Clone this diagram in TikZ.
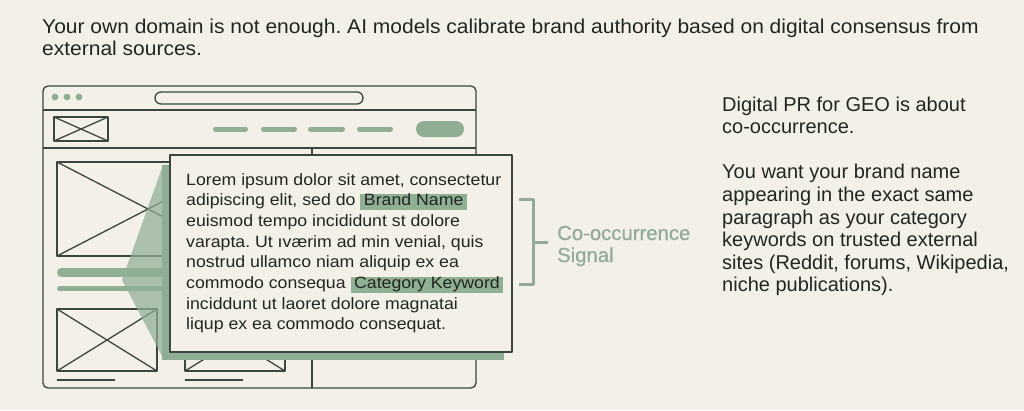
\documentclass[tikz,border=0pt]{standalone}
\usepackage{fontspec}
\setmainfont{Liberation Sans}
\newfontfamily\topf[FakeStretch=1.05]{Liberation Sans}
\newfontfamily\cardf[FakeStretch=1.08]{Liberation Sans}
\newfontfamily\lblf[FakeBold=0.6]{Liberation Sans}
\frenchspacing
\definecolor{bg}{HTML}{F3F1E7}
\definecolor{ink}{HTML}{222622}
\definecolor{frm}{HTML}{3A463E}
\definecolor{grn}{HTML}{8FAE93}
\definecolor{hl}{HTML}{8FB093}
\definecolor{brk}{HTML}{93AA98}
\newcommand\hlb[1]{{\setlength{\fboxsep}{0pt}\colorbox{hl}{\hspace{3.5pt}\rule[-4.5pt]{0pt}{16.5pt}#1\hspace{3.5pt}}}}
\begin{document}
\begin{tikzpicture}[x=1pt,y=-1pt,line join=round,
  frame/.style={draw=frm,line width=1.3pt},
  navdash/.style={draw=grn,line width=5pt,line cap=round},
  toptxt/.style={inner sep=0pt,anchor=base west,text=ink,font=\topf\fontsize{20}{22}\selectfont},
  cardtxt/.style={inner sep=0pt,anchor=base west,text=ink,font=\cardf\fontsize{16.4}{20}\selectfont},
  sidetxt/.style={inner sep=0pt,anchor=base west,text=ink,font=\fontsize{20}{22}\selectfont},
  lbltxt/.style={inner sep=0pt,anchor=base west,text=brk,font=\lblf\fontsize{20.3}{22}\selectfont}]
\useasboundingbox[fill=bg] (0,0) rectangle (1024,410);

% top text
\node[toptxt] (t1) at (42,33) {Your own domain is not enough. AI models calibrate brand authority based on digital consensus from};
\node[toptxt] (t2) at (42,55) {external sources.};

% browser window
\draw[frame,rounded corners=5pt] (43,86) rectangle (476,388);
\draw[frame] (43,110) -- (476,110);
\draw[frame] (43,148) -- (476,148);
\draw[frame] (312,148) -- (312,388);
\fill[grn] (55,97) circle (3.4pt);
\fill[grn] (67,97) circle (3.4pt);
\fill[grn] (79,97) circle (3.4pt);
\draw[frame,rounded corners=6pt] (155,92) rectangle (363,104);
% nav
\draw[frame] (54,117) rectangle (108,141);
\draw[frame] (54,117) -- (108,141) (54,141) -- (108,117);
\draw[navdash] (215.5,129) -- (245.5,129);
\draw[navdash] (263.5,129) -- (294.5,129);
\draw[navdash] (310.5,129) -- (342.5,129);
\draw[navdash] (359.5,129) -- (390.5,129);
\fill[grn,rounded corners=8pt] (416,121) rectangle (464,137);

% content placeholders
\draw[frame] (57,162) rectangle (239,256);
\draw[frame] (57,162) -- (239,256) (57,256) -- (239,162);
\draw[grn,line width=9pt,line cap=round] (61.5,272.5) -- (300,272.5);
\draw[grn,line width=5pt,line cap=round] (59.5,288.5) -- (300,288.5);
\draw[frame] (57,309) rectangle (157,371);
\draw[frame] (57,309) -- (157,371) (57,371) -- (157,309);
\draw[frame] (185,309) rectangle (285,371);
\draw[frame] (185,309) -- (285,371) (185,371) -- (285,309);
\draw[frame,line width=2pt] (57,380) -- (115,380);
\draw[frame,line width=2pt] (185,380) -- (243,380);

% spotlight and card
\fill[grn,opacity=.72] (163,165) -- (122,280) -- (163,358) -- cycle;
\fill[grn] (162,165) rectangle (504,360);
\draw[frame,fill=bg] (170,155) rectangle (512,352);

\foreach \txt [count=\i from 0] in {
  {Lorem ipsum dolor sit amet, consectetur},
  {adipiscing elit, sed do \hlb{Brand Name}},
  {euismod tempo incididunt st dolore},
  {varapta. Ut ıværim ad min venial, quis},
  {nostrud ullamco niam aliquip ex ea},
  {commodo consequa \hlb{Category Keyword}},
  {inciddunt ut laoret dolore magnatai},
  {liqup ex ea commodo consequat.}}
  \node[cardtxt] (c\i) at (186,185+20.7*\i) {\txt};

% bracket
\draw[brk,line width=3pt] (519,199) -- (533,199) -- (533,284) -- (519,284);
\draw[brk,line width=3pt] (533,242) -- (548,242);
\node[lbltxt] (l1) at (557,240) {Co-occurrence};
\node[lbltxt] (l2) at (557,262) {Signal};

% side text
\foreach \txt [count=\i from 0] in {
  {Digital PR for GEO is about},
  {co-occurrence.},
  {},
  {You want your brand name},
  {appearing in the exact same},
  {paragraph as your category},
  {keywords on trusted external},
  {sites (Reddit, forums, Wikipedia,},
  {niche publications).}}
  \node[sidetxt] (s\i) at (722,111+22.6*\i) {\txt};
\end{tikzpicture}
\end{document}
